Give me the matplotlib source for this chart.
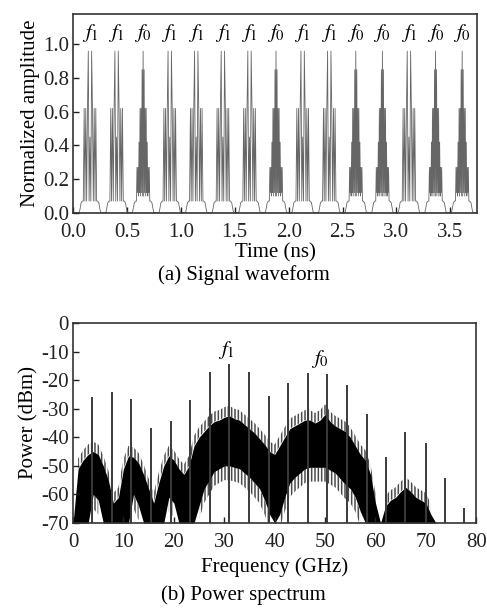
import matplotlib.pyplot as plt
import numpy as np

plt.rcParams['font.family'] = ['Liberation Serif', 'DejaVu Serif']
plt.rcParams['mathtext.fontset'] = 'stix'
plt.rcParams['axes.unicode_minus'] = False
plt.rcParams['hatch.linewidth'] = 1.1

# ---------------- (a) signal waveform ----------------
pulse_centers = [0.157, 0.404, 0.650, 0.897, 1.143, 1.390, 1.637, 1.883,
                 2.130, 2.377, 2.623, 2.870, 3.116, 3.363, 3.610]
pulse_bits = [1, 1, 0, 1, 1, 1, 1, 0, 1, 1, 0, 0, 1, 0, 0]

# rising shoulder of a pulse (offset in ns, amplitude)
shoulder_t = [-0.110, -0.098, -0.090, -0.082, -0.070]
shoulder_y = [0.0, 0.005, 0.03, 0.06, 0.07]

# f1 pulse body
f1_t = [-0.062, -0.054, -0.047, -0.039, -0.031, -0.023, -0.0155, -0.008, 0.0,
        0.008, 0.0155, 0.023, 0.031, 0.039, 0.047, 0.054, 0.062]
f1_y = [0.07, 0.62, 0.07, 0.62, 0.07, 0.62, 0.96, 0.07, 0.45,
        0.07, 0.96, 0.62, 0.07, 0.62, 0.07, 0.62, 0.07]

# f0 pulse body
f0_t = [-0.062, -0.057, -0.052, -0.0475, -0.043, -0.038, -0.033, -0.0285, -0.024,
        -0.019, -0.014, -0.0095, -0.005, 0.0, 0.005, 0.0095, 0.014, 0.019, 0.024,
        0.0285, 0.033, 0.038, 0.043, 0.0475, 0.052, 0.057, 0.062]
f0_y = [0.07, 0.27, 0.12, 0.27, 0.10, 0.42, 0.12, 0.62, 0.10,
        0.62, 0.12, 0.85, 0.10, 0.96, 0.10, 0.85, 0.12, 0.62, 0.10,
        0.62, 0.12, 0.42, 0.10, 0.27, 0.12, 0.27, 0.07]

# ---------------- (b) power spectrum ----------------
spec_f = list(range(0, 73))
spec_up = [-70, -51, -48, -46, -45, -46, -50, -55, -63, -61,
           -51, -46.5, -47, -49, -53, -58, -63, -56, -50, -46.5,
           -48, -51, -53, -50, -43, -40, -38, -36, -34.5, -34,
           -33, -32.5, -33.5, -34, -35.5, -37, -38.5, -40.5, -42.5, -45,
           -46, -43, -40, -37, -36, -35, -34, -34, -35, -34,
           -32, -34.5, -36, -37, -38, -40, -43, -46, -48, -53,
           -63, -70, -64, -62, -61, -59, -57.5, -59, -61, -62,
           -63, -67, -70]
spec_lo = [-70, -70, -70, -70, -60, -62, -70, -70, -70, -70,
           -70, -70, -60, -64, -70, -70, -70, -70, -70, -61,
           -63, -70, -70, -70, -70, -64, -58, -55, -52, -51,
           -50, -50, -50.5, -51, -52.5, -54, -56, -58, -62, -67,
           -70, -67, -61, -56, -54, -52.5, -51, -50.5, -50.5, -50.5,
           -50.5, -51.5, -52.5, -54.5, -56.5, -58, -61, -66, -70, -70,
           -70, -70, -70, -70, -70, -70, -70, -70, -70, -70,
           -70, -70, -70]

line_freq = [3.8, 7.7, 11.5, 15.5, 19.4, 23.2, 27.1, 30.9, 34.9, 38.8,
             42.6, 46.6, 50.4, 54.3, 58.3, 62.0, 65.9, 70.0, 73.8, 77.6]
line_db = [-26, -24.3, -26.6, -36.9, -34.2, -27, -17, -14.2, -17.2, -25.7,
           -21.1, -17.4, -17.8, -21.7, -31.9, -46.8, -38, -42.1, -54.4, -64.6]

fig = plt.figure(figsize=(4.87, 6.10), dpi=100)
ax1 = fig.add_axes([0.150, 0.651, 0.830, 0.326])
ax2 = fig.add_axes([0.150, 0.1426, 0.828, 0.328])

# build the waveform from the pulse shapes
t_all, y_all = [], []
for c, b in zip(pulse_centers, pulse_bits):
    bt, by = (f1_t, f1_y) if b == 1 else (f0_t, f0_y)
    tt = shoulder_t + bt + [-s for s in shoulder_t[::-1]]
    yy = shoulder_y + by + shoulder_y[::-1]
    t_all += [c + x for x in tt]
    y_all += yy
t_all = [0.0] + t_all + [3.75]
y_all = [0.0] + y_all + [0.0]
ax1.plot(t_all, y_all, color='#666666', lw=0.6)

for c, b in zip(pulse_centers, pulse_bits):
    ax1.text(c, 1.07, r'$f_{%d}$' % b, ha='center', va='center', fontsize=15)

ax1.set_xlim(0, 3.75)
ax1.set_ylim(0, 1.18)
ax1.set_xticks(np.arange(0, 3.51, 0.5))
ax1.set_yticks(np.arange(0, 1.01, 0.2))
ax1.xaxis.set_major_formatter(plt.FormatStrFormatter('%.1f'))
ax1.yaxis.set_major_formatter(plt.FormatStrFormatter('%.1f'))
ax1.set_xlabel('Time (ns)', fontsize=15, labelpad=1)
ax1.set_ylabel('Normalized amplitude', fontsize=15, labelpad=2)

# black body of the spectrum with gray ragged edges
sf = np.array(spec_f)
su = np.array(spec_up, dtype=float)
sl = np.array(spec_lo, dtype=float)
ax2.fill_between(sf, su, su + 3.5, where=su > -69, facecolor='none',
                 edgecolor='#4a4a4a', hatch='|||||', lw=0)
ax2.fill_between(sf, sl - 5, sl, where=sl > -69.5, facecolor='none',
                 edgecolor='#4a4a4a', hatch='|||||', lw=0)
ax2.fill_between(sf, sl, su, color='black', lw=0)
ax2.vlines(line_freq, -70, line_db, color='#3a3a3a', lw=1.4)
ax2.text(30.5, -9.5, r'$f_1$', ha='center', va='center', fontsize=15)
ax2.text(49.0, -12.5, r'$f_0$', ha='center', va='center', fontsize=15)
ax2.set_xlim(0, 80)
ax2.set_ylim(-70, 0)
ax2.set_xticks(range(0, 81, 10))
ax2.set_yticks(range(-70, 1, 10))
ax2.set_xlabel('Frequency (GHz)', fontsize=15, labelpad=4)
ax2.set_ylabel('Power (dBm)', fontsize=15, labelpad=2)

for ax in (ax1, ax2):
    ax.tick_params(direction='in', length=4, width=1, labelsize=15, pad=3,
                   colors='#222222')
    ax.tick_params(axis='x', pad=7)
    for s in ax.spines.values():
        s.set_linewidth(1.2)
        s.set_color('#333333')

fig.text(0.5, 0.549, '(a) Signal waveform', ha='center', va='center', fontsize=15)
fig.text(0.5, 0.025, '(b) Power spectrum', ha='center', va='center', fontsize=15)

fig.savefig('out.png', dpi=100)
